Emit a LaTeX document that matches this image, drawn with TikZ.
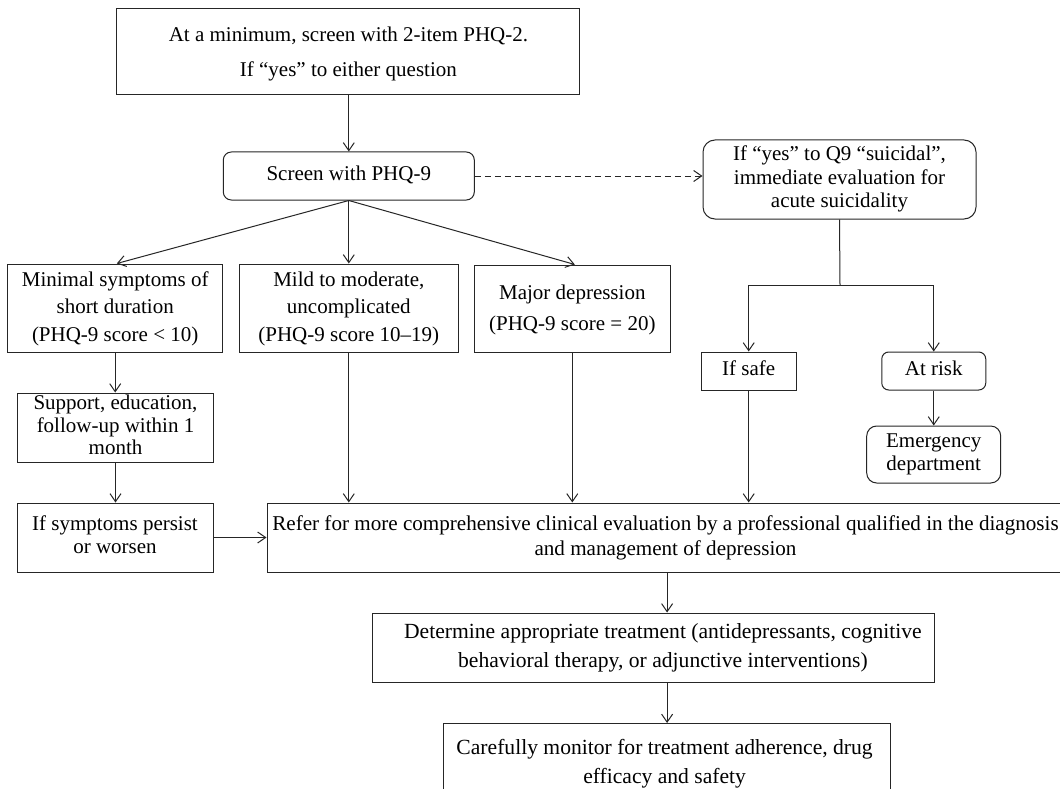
\documentclass[tikz,border=0pt]{standalone}
\usepackage{fontspec}
\setmainfont{Liberation Serif}
\usetikzlibrary{arrows.meta}
\newcommand{\mlines}[3][21]{{\fontsize{#1}{#2}\selectfont\begin{tabular}{@{}c@{}}#3\end{tabular}}}
\begin{document}
\begin{tikzpicture}[x=1pt,y=-1pt,
  box/.style={draw=black!85, line width=1pt, inner sep=0pt, anchor=center},
  rbox/.style={box, rounded corners=8pt},
  arr/.style={draw=black!85, line width=1pt, -{Straight Barb[length=8pt,width=11pt]}},
  dasharr/.style={arr, dash pattern=on 6pt off 4pt}]
\useasboundingbox (0,0) rectangle (1060,789);
\clip (0,0) rectangle (1060,789);
\fill[white] (0,0) rectangle (1060,789);

\node[box, minimum width=463pt, minimum height=86pt] (top) at (348.4,52)
  {\mlines{35}{At a minimum, screen with 2-item PHQ-2.\\If “yes” to either question}};
\node[rbox, minimum width=251pt, minimum height=48pt] (phq) at (348.8,176)
  {\mlines{24}{Screen with PHQ-9}};
\node[rbox, rounded corners=12pt, minimum width=273pt, minimum height=79pt] (suic) at (839.5,179.5)
  {\mlines{23.5}{If “yes” to Q9 “suicidal”,\\immediate evaluation for\\acute suicidality}};

\node[box, minimum width=214.5pt, minimum height=88pt] (minimal) at (115.2,308)
  {\mlines{27.5}{Minimal symptoms of\\short duration\\(PHQ-9 score < 10)}};
\node[box, minimum width=219pt, minimum height=88pt] (mild) at (348.8,308)
  {\mlines{27.5}{Mild to moderate,\\uncomplicated\\(PHQ-9 score 10–19)}};
\node[box, minimum width=195.4pt, minimum height=87pt] (major) at (572.3,308.5)
  {\raisebox{-3pt}{\mlines{31}{Major depression\\(PHQ-9 score = 20)}}};

\node[box, minimum width=95.4pt, minimum height=38pt] (safe) at (748.7,371)
  {\mlines{24}{If safe}};
\node[rbox, rounded corners=7pt, minimum width=104pt, minimum height=38pt] (risk) at (933.75,371)
  {\mlines{24}{At risk}};
\node[rbox, rounded corners=10pt, minimum width=134pt, minimum height=57pt] (emerg) at (933.7,454.5)
  {\mlines{23}{Emergency\\department}};

\node[box, minimum width=195.3pt, minimum height=69pt] (support) at (115.5,427.5)
  {\mlines{22.5}{Support, education,\\follow-up within 1\\month}};
\node[box, minimum width=196pt, minimum height=69pt] (ifsym) at (115,537.5)
  {\mlines{22.5}{If symptoms persist\\or worsen}};

\node[box, minimum width=797pt, minimum height=69pt] (refer) at (665.5,537.5)
  {\mlines[21.1]{25}{Refer for more comprehensive clinical evaluation by a professional qualified in the diagnosis\\and management of depression}};

\node[box, minimum width=562pt, minimum height=69pt] (determine) at (653.4,647.5)
  {\hspace*{19pt}\mlines[21.6]{29}{Determine appropriate treatment (antidepressants, cognitive\\behavioral therapy, or adjunctive interventions)}};
\node[box, anchor=north, minimum width=447pt, minimum height=80pt] (monitor) at (667.1,723)
  {\mlines[21.6]{29}{Carefully monitor for treatment adherence, drug\\efficacy and safety}\hspace*{5pt}};

\coordinate (split) at (840,285);

\draw[arr] (phq.north |- top.south) -- (phq.north);
\draw[dasharr] (phq.east) -- (phq.east -| suic.west);
\draw[arr] (phq.south) -- ([xshift=1.6pt]minimal.north);
\draw[arr] (phq.south) -- (mild.north);
\draw[arr] (phq.south) -- ([xshift=2.5pt]major.north);
\draw[draw=black!85, line width=1pt] (suic.south) -- (split);
\draw[arr] (split) -| (safe.north);
\draw[arr] (split) -| (risk.north);
\draw[arr] (risk.south) -- (risk.south |- emerg.north);
\draw[arr] (minimal.south) -- (minimal.south |- support.north);
\draw[arr] (support.south) -- (support.south |- ifsym.north);
\draw[arr] (ifsym.east) -- (ifsym.east -| refer.west);
\draw[arr] (mild.south) -- (mild.south |- refer.north);
\draw[arr] (major.south) -- (major.south |- refer.north);
\draw[arr] (safe.south) -- (safe.south |- refer.north);
\draw[arr] (monitor.north |- refer.south) -- (monitor.north |- determine.north);
\draw[arr] (monitor.north |- determine.south) -- (monitor.north);
\end{tikzpicture}
\end{document}
